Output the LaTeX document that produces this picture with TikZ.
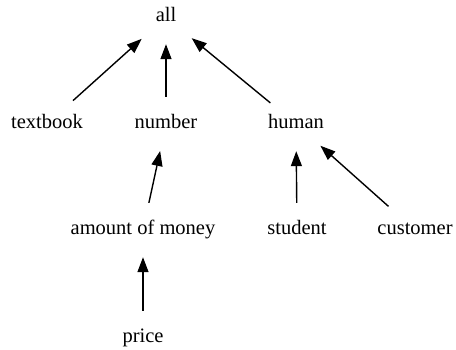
\documentclass[tikz,border=0pt]{standalone}
\usepackage{fontspec}
\setmainfont{Liberation Serif}
\usetikzlibrary{arrows.meta,shapes.geometric}
\begin{document}
\begin{tikzpicture}[x=1pt,y=-1pt,
  concept/.style={ellipse,minimum width=81pt,minimum height=54pt,inner sep=0pt,
    text height=14pt,text depth=4pt,
    font=\fontsize{20.5}{24}\selectfont},
  isa/.style={line width=1.4pt,-{Triangle[length=15pt,width=11pt]}}]
\useasboundingbox (0,0) rectangle (456,350);
\node[concept] (all) at (166,17) {all};
\node[concept] (textbook) at (47,124) {textbook};
\node[concept] (number) at (166,124) {number};
\node[concept] (human) at (296,124) {human};
\node[concept] (money) at (143,230) {amount of money};
\node[concept] (student) at (297,230) {student};
\node[concept] (customer) at (415,230) {customer};
\node[concept] (price) at (143,338) {price};
\draw[isa] (textbook) -- (all);
\draw[isa] (number) -- (all);
\draw[isa] (human) -- (all);
\draw[isa] (money) -- (number);
\draw[isa] (student) -- (human);
\draw[isa] (customer) -- (human);
\draw[isa] (price) -- (money);
\end{tikzpicture}
\end{document}
